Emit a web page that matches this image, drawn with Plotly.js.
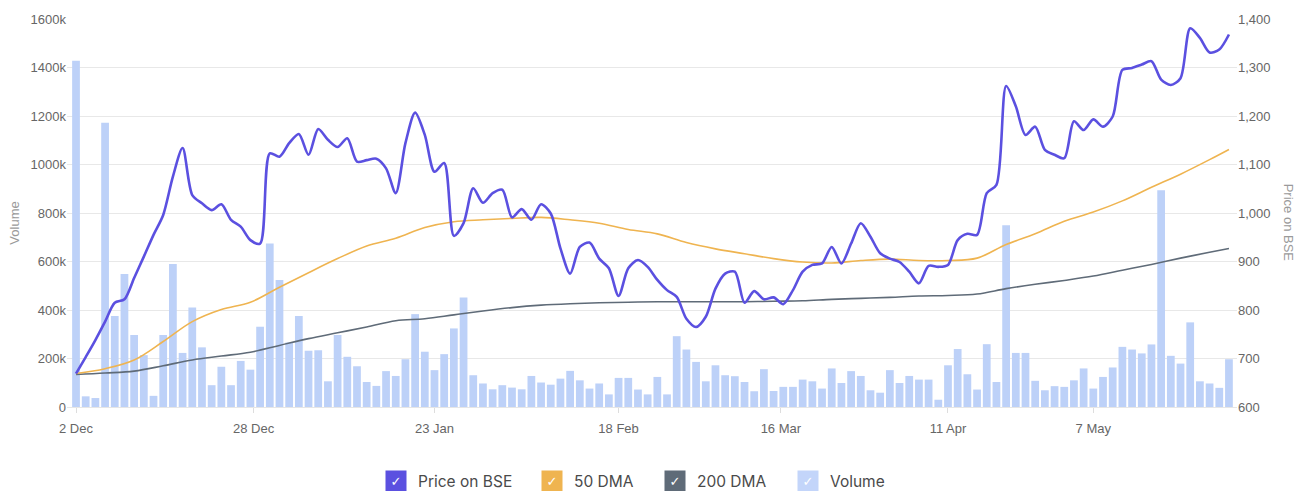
<!DOCTYPE html>
<html>
<head>
<meta charset="utf-8">
<script src="https://cdn.plot.ly/plotly-3.0.1.min.js"></script>
<style>
  html, body { margin: 0; padding: 0; background: #ffffff; }
  #chart { width: 1308px; height: 491px; }
</style>
</head>
<body>
<div id="chart"></div>
<script>
// Trading days (category labels), 2 Dec 2024 – 27 May 2025
const days = [
  "2024-12-02","2024-12-03","2024-12-04","2024-12-05","2024-12-06","2024-12-09","2024-12-10","2024-12-11","2024-12-12","2024-12-13",
  "2024-12-16","2024-12-17","2024-12-18","2024-12-19","2024-12-20","2024-12-23","2024-12-24","2024-12-26","2024-12-27","2024-12-30",
  "2024-12-31","2025-01-01","2025-01-02","2025-01-03","2025-01-06","2025-01-07","2025-01-08","2025-01-09","2025-01-10","2025-01-13",
  "2025-01-14","2025-01-15","2025-01-16","2025-01-17","2025-01-20","2025-01-21","2025-01-22","2025-01-23","2025-01-24","2025-01-27",
  "2025-01-28","2025-01-29","2025-01-30","2025-01-31","2025-02-01","2025-02-03","2025-02-04","2025-02-05","2025-02-06","2025-02-07",
  "2025-02-10","2025-02-11","2025-02-12","2025-02-13","2025-02-14","2025-02-17","2025-02-18","2025-02-19","2025-02-20","2025-02-21",
  "2025-02-24","2025-02-25","2025-02-27","2025-02-28","2025-03-03","2025-03-04","2025-03-05","2025-03-06","2025-03-07","2025-03-10",
  "2025-03-11","2025-03-12","2025-03-13","2025-03-17","2025-03-18","2025-03-19","2025-03-20","2025-03-21","2025-03-24","2025-03-25",
  "2025-03-26","2025-03-27","2025-03-28","2025-04-01","2025-04-02","2025-04-03","2025-04-04","2025-04-07","2025-04-08","2025-04-09",
  "2025-04-11","2025-04-15","2025-04-16","2025-04-17","2025-04-21","2025-04-22","2025-04-23","2025-04-24","2025-04-25","2025-04-28",
  "2025-04-29","2025-04-30","2025-05-02","2025-05-05","2025-05-06","2025-05-07","2025-05-08","2025-05-09","2025-05-12","2025-05-13",
  "2025-05-14","2025-05-15","2025-05-16","2025-05-19","2025-05-20","2025-05-21","2025-05-22","2025-05-23","2025-05-26","2025-05-27"
];

// Price on BSE (one value per trading day)
const price = [
  669, 703, 738, 776, 815, 822, 866, 910, 955, 996,
  1075, 1134, 1037, 1020, 1006, 1018, 986, 972, 944, 937,
  1123, 1116, 1144, 1163, 1120, 1173, 1151, 1136, 1154, 1106,
  1109, 1112, 1092, 1041, 1144, 1207, 1161, 1085, 1103, 953,
  979, 1051, 1021, 1041, 1048, 991, 1008, 986, 1018, 999,
  927, 875, 930, 939, 906, 886, 829, 886, 903, 889,
  862, 841, 827, 782, 765, 786, 844, 875, 879, 815,
  839, 822, 826, 812, 841, 879, 893, 896, 930, 896,
  937, 979, 951, 917, 906, 899, 879, 855, 891, 889,
  893, 944, 957, 955, 1041, 1058, 1262, 1220, 1161, 1178,
  1130, 1120, 1113, 1189, 1171, 1193, 1178, 1199, 1295, 1299,
  1306, 1313, 1275, 1264, 1278, 1381, 1361, 1331, 1337, 1368
];

// Volume (shares, one value per trading day)
const volume = [
  1428000, 44000, 37000, 1172000, 375000, 548000, 297000, 214000, 46000, 297000,
  590000, 223000, 410000, 246000, 90000, 166000, 90000, 190000, 154000, 331000,
  674000, 524000, 266000, 375000, 232000, 234000, 106000, 297000, 207000, 168000,
  103000, 87000, 148000, 128000, 197000, 383000, 228000, 152000, 218000, 324000,
  452000, 131000, 97000, 73000, 90000, 80000, 73000, 128000, 101000, 92000,
  117000, 149000, 110000, 76000, 97000, 52000, 120000, 120000, 72000, 52000,
  124000, 52000, 292000, 237000, 186000, 106000, 172000, 131000, 127000, 103000,
  65000, 156000, 66000, 83000, 83000, 113000, 106000, 76000, 159000, 99000,
  148000, 128000, 69000, 59000, 152000, 99000, 128000, 113000, 113000, 30000,
  172000, 239000, 135000, 72000, 259000, 103000, 749000, 223000, 223000, 108000,
  69000, 86000, 83000, 110000, 159000, 76000, 124000, 163000, 248000, 237000,
  221000, 258000, 894000, 211000, 179000, 349000, 106000, 97000, 79000, 197000
];

// Moving averages, read every third trading day (index into days)
const dmaIdx = [0,3,6,9,12,15,18,21,24,27,30,33,36,39,42,45,48,51,54,57,60,63,66,69,72,75,78,81,84,87,90,93,96,99,102,105,108,111,114,117,119];
const dma50 = [669,679,697,735,776,801,816,847,877,906,932,948,970,982,986,989,991,986,979,966,957,939,926,916,906,899,897,902,905,902,902,907,935,957,983,1002,1025,1053,1080,1110,1131];
const dma200 = [667,670,674,685,697,705,713,727,741,753,765,778,782,790,798,805,810,813,815,816,817,817,817,817,818,819,822,824,826,829,830,833,844,853,861,870,882,894,907,919,927];

// Axis ticks
const xTickPos = [0, 18.33, 37, 56, 72.75, 90, 105];
const xTickText = ["2 Dec","28 Dec","23 Jan","18 Feb","16 Mar","11 Apr","7 May"];
const volTickVals = [0,200000,400000,600000,800000,1000000,1200000,1400000,1600000];
const volTickText = ["0","200k","400k","600k","800k","1000k","1200k","1400k","1600k"];

// Legend entries
const legendNames = ["Price on BSE","50 DMA","200 DMA","Volume"];
const legendColors = ["#5b50e0","#efb450","#5f6b78","#c3d5fa"];

const idx = days.map((d, i) => i);
const dmaDays = dmaIdx.map(i => days[i]);

const FONT = "Inter, 'Noto Sans', Arial, sans-serif";
const TICKFONT = "'Liberation Sans', Arial, Helvetica, sans-serif";

const traces = [
  {
    type: "bar", name: "Volume", x: idx, y: volume, customdata: days,
    marker: { color: "#bdd1f8" }, yaxis: "y",
    hovertemplate: "%{customdata}<br>Volume %{y:,}<extra></extra>"
  },
  {
    type: "scatter", mode: "lines", name: "200 DMA", x: dmaIdx, y: dma200, customdata: dmaDays,
    line: { color: "#5f6b78", width: 1.6, shape: "spline", smoothing: 1 }, yaxis: "y2",
    hovertemplate: "%{customdata}<br>200 DMA %{y}<extra></extra>"
  },
  {
    type: "scatter", mode: "lines", name: "50 DMA", x: dmaIdx, y: dma50, customdata: dmaDays,
    line: { color: "#efb450", width: 1.6, shape: "spline", smoothing: 1 }, yaxis: "y2",
    hovertemplate: "%{customdata}<br>50 DMA %{y}<extra></extra>"
  },
  {
    type: "scatter", mode: "lines", name: "Price on BSE", x: idx, y: price, customdata: days,
    line: { color: "#5b50e0", width: 2.6, shape: "spline", smoothing: 0.8 }, yaxis: "y2",
    hovertemplate: "%{customdata}<br>Price %{y}<extra></extra>"
  }
];

const annotations = [
  { text: "Volume", xref: "paper", yref: "paper", x: -0.0445, y: 0.475, showarrow: false, textangle: -90,
    font: { family: TICKFONT, size: 13, color: "#9a9a9a" }, xanchor: "center", yanchor: "middle" },
  { text: "Price on BSE", xref: "paper", yref: "paper", x: 1.0436, y: 0.475, showarrow: false, textangle: 90,
    font: { family: TICKFONT, size: 13, color: "#9a9a9a" }, xanchor: "center", yanchor: "middle" }
];

const boxX = [396, 552, 675, 808];
legendNames.forEach((name, k) => {
  const cx = boxX[k];
  const cy = 481;
  annotations.push({
    text: "✓", xref: "paper", yref: "paper",
    x: (cx - 67) / 1170, y: (407 - cy) / 388,
    showarrow: false, xanchor: "center", yanchor: "middle",
    width: 16, height: 16, borderpad: 2, bgcolor: legendColors[k],
    font: { family: "DejaVu Sans, sans-serif", size: 13, color: "#ffffff" }
  });
  annotations.push({
    text: name, xref: "paper", yref: "paper",
    x: (cx + 20 - 67) / 1170, y: (407 - cy) / 388,
    showarrow: false, xanchor: "left", yanchor: "middle",
    font: { family: FONT, size: 15.5, color: "#4a4a4a" }
  });
});

const layout = {
  width: 1308, height: 491,
  margin: { l: 67, r: 71, t: 19, b: 84, pad: 0 },
  paper_bgcolor: "#ffffff", plot_bgcolor: "#ffffff",
  showlegend: false,
  bargap: 0.2,
  font: { family: TICKFONT, color: "#666" },
  xaxis: {
    range: [-0.93, 119.83], tickvals: xTickPos, ticktext: xTickText,
    ticks: "outside", ticklen: 5, tickcolor: "#dddddd", tickwidth: 1, ticklabelstandoff: 4,
    showgrid: false, zeroline: false, showline: true, linecolor: "#e6e6e6", linewidth: 1,
    tickfont: { family: TICKFONT, size: 13, color: "#666" }, fixedrange: true
  },
  yaxis: {
    range: [0, 1600000], tickvals: volTickVals, ticktext: volTickText,
    showgrid: true, gridcolor: "#e8e8e8", gridwidth: 1, zeroline: false, showline: false,
    ticks: "", tickfont: { family: TICKFONT, size: 13, color: "#666" }, fixedrange: true
  },
  yaxis2: {
    range: [600, 1400], dtick: 100, tick0: 600, tickformat: ",d",
    overlaying: "y", side: "right", showgrid: false, zeroline: false, showline: false,
    ticks: "", tickfont: { family: TICKFONT, size: 13, color: "#666" }, fixedrange: true
  },
  annotations: annotations,
  hovermode: "closest"
};

Plotly.newPlot("chart", traces, layout, { displayModeBar: false, responsive: false });
</script>
</body>
</html>
